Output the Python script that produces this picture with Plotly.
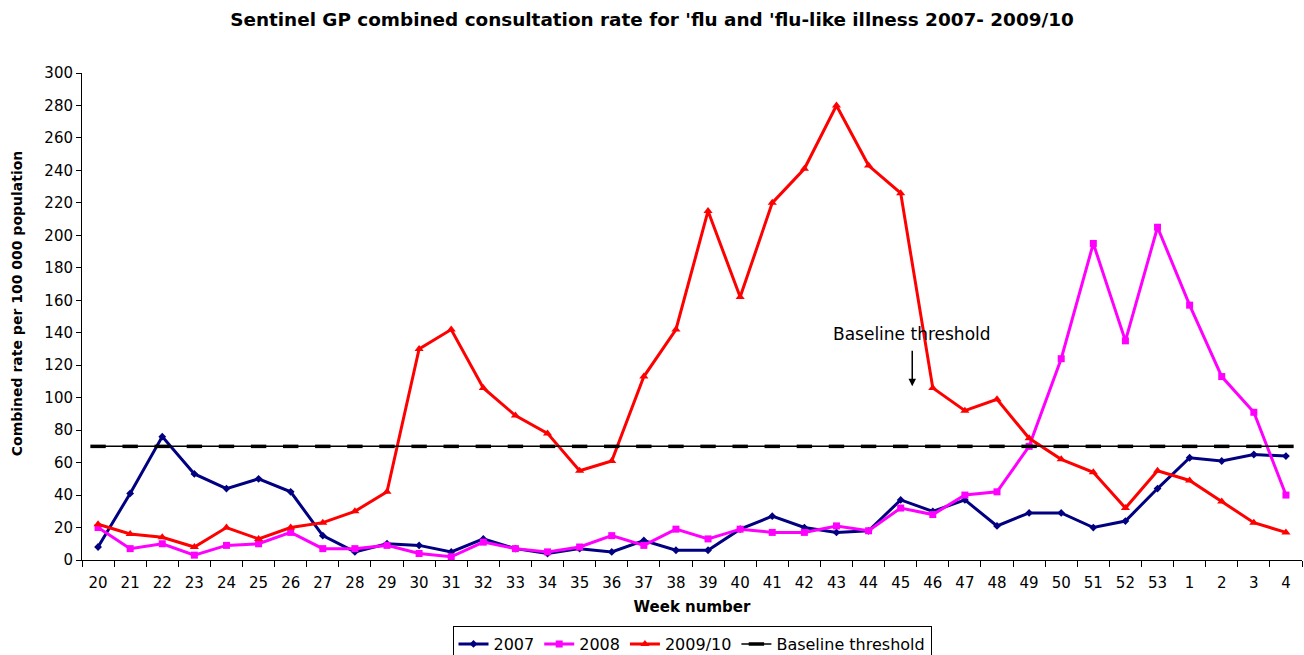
import plotly.graph_objects as go

weeks = ["20","21","22","23","24","25","26","27","28","29","30","31","32","33","34","35","36","37","38","39",
         "40","41","42","43","44","45","46","47","48","49","50","51","52","53","1","2","3","4"]

rate_2007 = [8,41,76,53,44,50,42,15,5,10,9,5,13,7,4,7,5,12,6,6,
             19,27,20,17,18,37,30,37,21,29,29,20,24,44,63,61,65,64]
rate_2008 = [20,7,10,3,9,10,17,7,7,9,4,2,11,7,5,8,15,9,19,13,
             19,17,17,21,18,32,28,40,42,70,124,195,135,205,157,113,91,40]
rate_2009 = [22,16,14,8,20,13,20,23,30,42,130,142,106,89,78,55,61,113,142,215,
             162,220,241,280,243,226,106,92,99,75,62,54,32,55,49,36,23,17]
baseline = [70] * len(weeks)

FONT = "DejaVu Sans"

fig = go.Figure()
fig.add_trace(go.Scatter(x=weeks, y=rate_2007, name="2007", mode="lines+markers",
                         line=dict(color="#000080", width=3),
                         marker=dict(symbol="diamond", size=6, color="#000080")))
fig.add_trace(go.Scatter(x=weeks, y=rate_2008, name="2008", mode="lines+markers",
                         line=dict(color="#FF00FF", width=3),
                         marker=dict(symbol="square", size=7, color="#FF00FF")))
fig.add_trace(go.Scatter(x=weeks, y=rate_2009, name="2009/10", mode="lines+markers",
                         line=dict(color="#FF0000", width=3),
                         marker=dict(symbol="triangle-up", size=8, color="#FF0000")))
fig.add_trace(go.Scatter(x=weeks, y=baseline, name="Baseline threshold", mode="lines+markers",
                         line=dict(color="black", width=1.5),
                         marker=dict(symbol="line-ew", size=11, line=dict(color="black", width=3.5))))

fig.add_annotation(x=25.36, y=107, xref="x", yref="y", text="", showarrow=True,
                   ax=0, ay=-37, arrowhead=2, arrowsize=1, arrowwidth=1.5, arrowcolor="black")
fig.add_annotation(x=25.36, y=139, xref="x", yref="y", text="Baseline threshold", showarrow=False,
                   font=dict(family=FONT, size=17, color="black"))
fig.add_annotation(x=-0.053, y=0.528, xref="paper", yref="paper", xanchor="center", yanchor="middle",
                   text="<b>Combined rate per 100 000 population</b>",
                   showarrow=False, textangle=-90, font=dict(family=FONT, size=14, color="black"))

# Figure is a little taller than the 655px window; the legend box's lower edge is clipped, as in the reference.
fig.update_layout(
    width=1304, height=675,
    paper_bgcolor="white", plot_bgcolor="white",
    margin=dict(l=82, r=2, t=73, b=115),
    font=dict(family=FONT, color="black", size=15),
    title=dict(text="<b>Sentinel GP combined consultation rate for 'flu and 'flu-like illness 2007- 2009/10</b>",
               x=0.5, xanchor="center", y=0.9704, yref="container", yanchor="middle", font=dict(size=18.4)),
    showlegend=True,
    legend=dict(orientation="h", x=0.5, xanchor="center", y=-0.1355, yanchor="top",
                bordercolor="black", borderwidth=1, font=dict(size=16),
                tracegroupgap=0),
    xaxis=dict(type="category", range=[-0.5, 37.5], automargin=False, showline=True, linecolor="black",
               linewidth=1, ticks="outside", ticklen=6, tickcolor="black", tickson="boundaries",
               ticklabelstandoff=9,
               showgrid=False, zeroline=False, tickfont=dict(size=15),
               title=dict(text="<b>Week number</b>", font=dict(size=15), standoff=10)),
    yaxis=dict(range=[0, 300], dtick=20, automargin=False, showline=True, linecolor="black", linewidth=1,
               ticks="outside", ticklen=5, tickcolor="black", showgrid=False, zeroline=False,
               tickfont=dict(size=15)),
)

fig.write_html("out.html", config={"displayModeBar": False},
               post_script="document.body.style.margin='0px';document.body.style.overflow='hidden';")
